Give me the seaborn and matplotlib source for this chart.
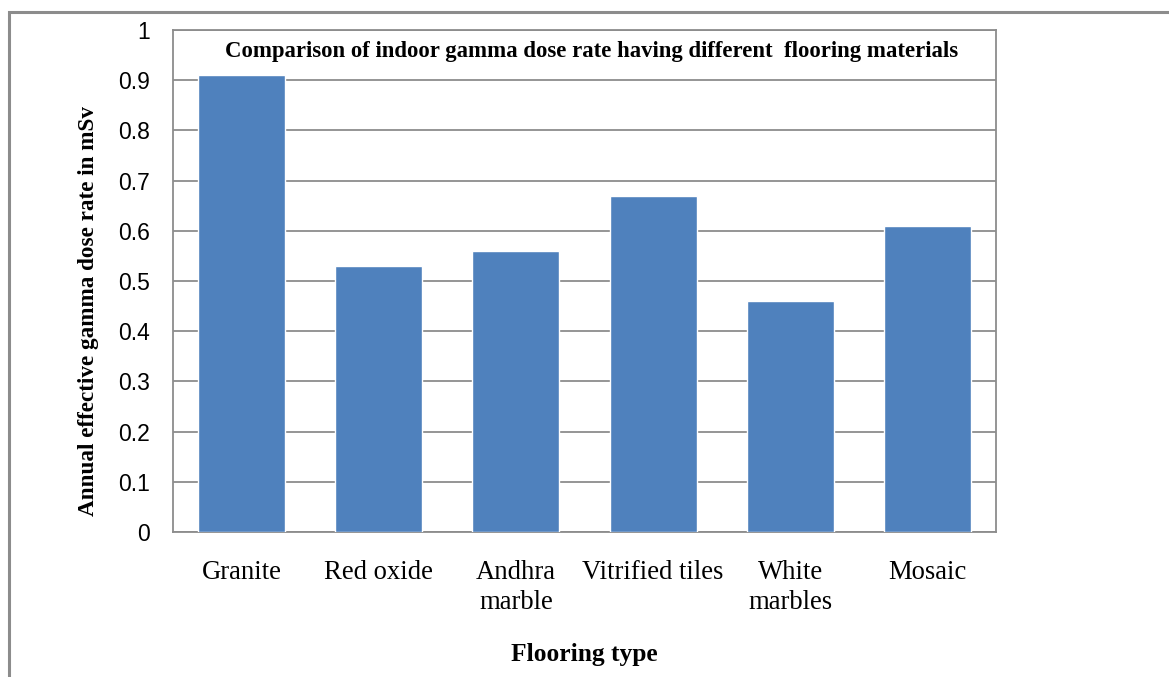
import matplotlib
matplotlib.use("Agg")
import matplotlib.pyplot as plt
from matplotlib.patches import Rectangle
import seaborn as sns
import pandas as pd

# Flooring types and their annual effective gamma dose (mSv)
flooring = ["Granite", "Red oxide", "Andhra\nmarble", "Vitrified tiles", "White\nmarbles", "Mosaic"]
dose = [0.91, 0.53, 0.56, 0.67, 0.46, 0.61]
y_ticks = [0, 0.1, 0.2, 0.3, 0.4, 0.5, 0.6, 0.7, 0.8, 0.9, 1.0]
y_tick_labels = ["0", "0.1", "0.2", "0.3", "0.4", "0.5", "0.6", "0.7", "0.8", "0.9", "1"]

title = "Comparison of indoor gamma dose rate having different  flooring materials"
x_label = "Flooring type"
y_label = "Annual effective gamma dose rate in mSv"

sns.set_theme(style="white")
plt.rcParams["text.color"] = "black"
plt.rcParams["axes.labelcolor"] = "black"
serif = ["Liberation Serif", "DejaVu Serif"]
sans = ["Liberation Sans", "DejaVu Sans"]

df = pd.DataFrame({"flooring": flooring, "dose": dose})

fig = plt.figure(figsize=(11.69, 6.77), dpi=100)
ax = fig.add_axes([0.148, 0.2142, 0.704, 0.7415])

sns.barplot(data=df, x="flooring", y="dose", color="#4F81BD", saturation=1,
            width=0.635, ax=ax, zorder=3)

ax.set_ylim(0, 1.0)
ax.set_xlim(-0.5, len(flooring) - 0.5)
ax.set_yticks(y_ticks)
ax.set_yticklabels(y_tick_labels, fontfamily=sans, fontsize=16.5, color="black")
ax.tick_params(axis="y", length=0, pad=16.5, labelcolor="black")
ax.tick_params(axis="x", length=0, pad=20, labelcolor="black")
for lbl in ax.get_xticklabels():
    lbl.set_fontfamily(serif)
    lbl.set_fontsize(19.2)
    lbl.set_linespacing(1.3)

ax.yaxis.grid(True, color="#8C8C8C", linewidth=1.3, zorder=0)
ax.set_axisbelow(True)
for s in ax.spines.values():
    s.set_visible(True)
    s.set_color("#8C8C8C")
    s.set_linewidth(1.3)

ax.set_xlabel(x_label, fontfamily=serif, fontsize=18.4, fontweight="bold", color="black")
ax.xaxis.set_label_coords(0.5, -0.222)
ax.set_ylabel(y_label, fontfamily=serif, fontsize=16.7, fontweight="bold", color="black")
ax.yaxis.set_label_coords(-0.09, 0.44)

ax.text(0.508, 0.958, title, transform=ax.transAxes, ha="center", va="center",
        fontfamily=serif, fontsize=16.4, fontweight="bold", color="black")

# Outer chart-area border
fig.patches.append(Rectangle((9 / 1169, -0.1), 1.2, 1.1 - 12 / 677,
                             transform=fig.transFigure, fill=False,
                             edgecolor="#8C8C8C", linewidth=2.2))

fig.savefig("out.png", dpi=100, facecolor="white")
